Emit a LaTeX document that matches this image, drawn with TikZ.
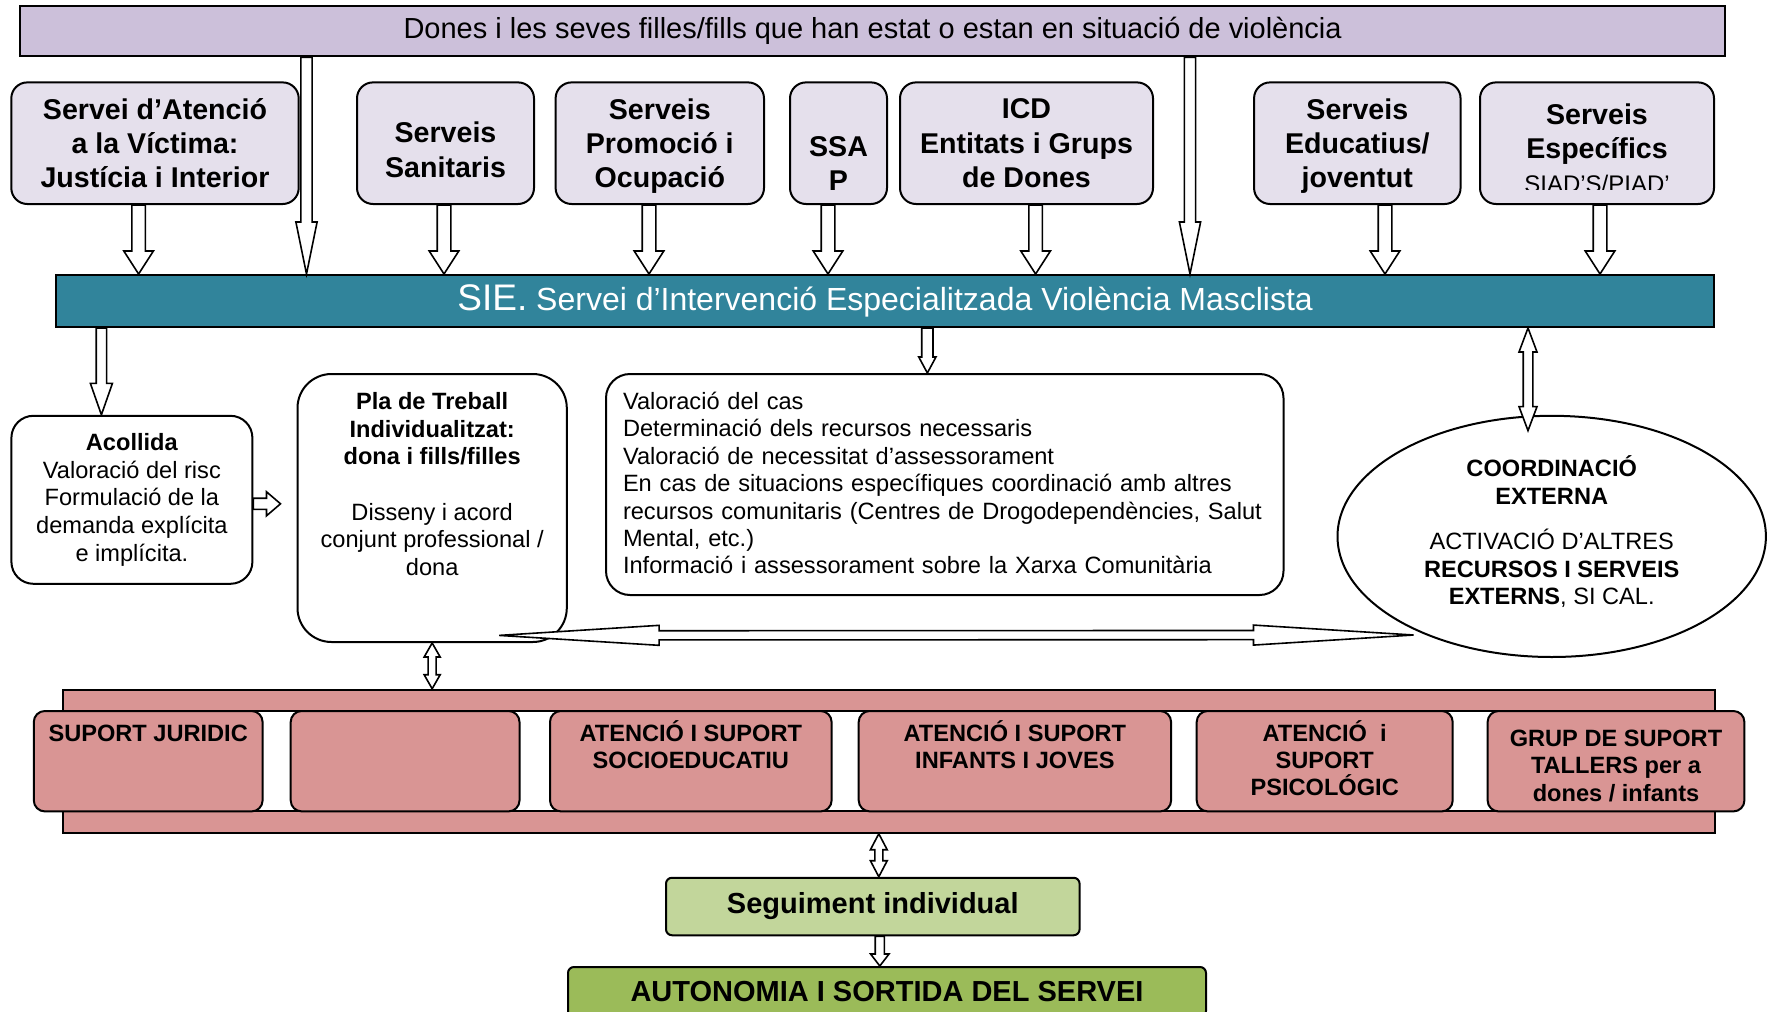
\documentclass[tikz,border=0pt]{standalone}
\usepackage{fontspec}
\setmainfont{Liberation Sans}
\usetikzlibrary{positioning,calc,shapes.geometric}

\definecolor{barlilac}{RGB}{204,192,218}
\definecolor{boxlilac}{RGB}{229,224,236}
\definecolor{sieteal}{RGB}{49,132,155}
\definecolor{rosefill}{RGB}{217,149,148}
\definecolor{sagegreen}{RGB}{194,214,155}
\definecolor{olivegreen}{RGB}{155,187,89}

% hollow block arrows: from, to, half shaft, half head, head length
\newcommand{\hollowarrow}[5]{%
	\coordinate (ha) at #1; \coordinate (hb) at #2;
	\coordinate (hh) at ($(hb)!#5!(ha)$);
	\draw[fill=white, line width=0.8pt] ($(ha)!#3!90:(hb)$) -- ($(hh)!#3!90:(hb)$) -- ($(hh)!#4!90:(hb)$) -- (hb)
	-- ($(hh)!#4!-90:(hb)$) -- ($(hh)!#3!-90:(hb)$) -- ($(ha)!#3!-90:(hb)$) -- cycle;}
\newcommand{\hollowboth}[5]{%
	\coordinate (ha) at #1; \coordinate (hb) at #2;
	\coordinate (hh) at ($(hb)!#5!(ha)$);
	\coordinate (hg) at ($(ha)!#5!(hb)$);
	\draw[fill=white, line width=0.8pt] (ha) -- ($(hg)!#4!90:(hb)$) -- ($(hg)!#3!90:(hb)$) -- ($(hh)!#3!90:(hb)$) -- ($(hh)!#4!90:(hb)$) -- (hb)
	-- ($(hh)!#4!-90:(hb)$) -- ($(hh)!#3!-90:(hb)$) -- ($(hg)!#3!-90:(hb)$) -- ($(hg)!#4!-90:(hb)$) -- cycle;}

\begin{document}
\begin{tikzpicture}[x=0.5pt, y=-0.5pt, line width=1pt]
		
		% Setup the styles for the boxes
		\tikzset{service/.style={draw, rounded corners=8pt, fill=boxlilac, align=center, inner sep=0pt,
				minimum height=60.8pt, font=\bfseries\fontsize{14.3}{17.2}\selectfont},
			barbox/.style={draw, inner sep=0pt},
			whitebox/.style={draw, fill=white, align=center, font=\fontsize{11.8}{13.8}\selectfont},
			support/.style={draw, rounded corners=5.5pt, fill=rosefill, align=center, inner sep=0pt,
				minimum height=50.2pt, text height=15pt, text depth=35.2pt,
				font=\bfseries\fontsize{11.8}{13.6}\selectfont},
			exitbox/.style={draw, rounded corners=3pt, inner sep=0pt, font=\bfseries\fontsize{14.5}{17}\selectfont}}
		
		\useasboundingbox (0,0) rectangle (1767,1012);
		
		% Top bar and the services
		\node[barbox, fill=barlilac, minimum width=852.35pt, minimum height=25.35pt, font=\fontsize{14.5}{17}\selectfont]
			at (872.65,30.95) (top) {Dones i les seves filles/fills que han estat o estan en situació de violència};
		\node[service, minimum width=143.7pt] at (155,143.2) (sav) {Servei d’Atenció\\a la Víctima:\\Justícia i Interior};
		\node[service, minimum width=88.5pt, text height=47.35pt, text depth=13.45pt] at (445.5,143.2) (ssan) {Serveis\\Sanitaris};
		\node[service, minimum width=104.2pt, text height=52.7pt, text depth=8.1pt] at (659.8,143.2) (sprom) {Serveis\\Promoció i\\Ocupació};
		\node[service, minimum width=48.5pt, text height=54pt, text depth=6.8pt] at (838.5,143.2) (ssap) {SSA\\P};
		\node[service, minimum width=126.5pt] at (1026.5,143.2) (icd) {ICD\\Entitats i Grups\\de Dones};
		\node[service, minimum width=103.25pt, text height=52.7pt, text depth=8.1pt] at (1357.3,143.2) (sedu) {Serveis\\Educatius/\\joventut};
		\node[service, minimum width=117pt] at (1597,143.2) (sesp) {};
		\begin{scope}
			\clip (sesp.north west) rectangle ([yshift=8pt]sesp.south east);
			\node[anchor=base, align=center, font=\bfseries\fontsize{14.3}{17}\selectfont]
				at ([yshift=-55.35pt]sesp.north) (sespText) {Serveis\\Específics\\{\mdseries\fontsize{12}{17}\selectfont SIAD’S/PIAD’}};
		\end{scope}
		
		% SIE bar
		\node[barbox, fill=sieteal, text=white, minimum width=828.85pt, minimum height=26pt, font=\fontsize{16}{19}\selectfont]
			at (885.15,301) (sie) {{\fontsize{18.5}{20}\selectfont SIE.} Servei d’Intervenció Especialitzada Violència Masclista};
		
		% Arrows into the SIE bar
		\coordinate (l1) at (306.5,0);
		\coordinate (l2) at (1190,0);
		\hollowarrow{(l1 |- top.south)}{(l1 |- sie.north)}{2.8pt}{5.3pt}{26pt}
		\hollowarrow{(l2 |- top.south)}{(l2 |- sie.north)}{2.8pt}{5.3pt}{26pt}
		\coordinate (s1) at ([xshift=-8.2pt]sav.south);
		\coordinate (s2) at ([xshift=-0.75pt]ssan.south);
		\coordinate (s3) at ([xshift=-5.4pt]sprom.south);
		\coordinate (s4) at ([xshift=-5.25pt]ssap.south);
		\coordinate (s5) at ([xshift=4.55pt]icd.south);
		\coordinate (s6) at ([xshift=13.85pt]sedu.south);
		\coordinate (s7) at ([xshift=1.5pt]sesp.south);
		\hollowarrow{(s1)}{(s1 |- sie.north)}{3.4pt}{7.4pt}{11.5pt}
		\hollowarrow{(s2)}{(s2 |- sie.north)}{3.4pt}{7.4pt}{11.5pt}
		\hollowarrow{(s3)}{(s3 |- sie.north)}{3.4pt}{7.4pt}{11.5pt}
		\hollowarrow{(s4)}{(s4 |- sie.north)}{3.4pt}{7.4pt}{11.5pt}
		\hollowarrow{(s5)}{(s5 |- sie.north)}{3.4pt}{7.4pt}{11.5pt}
		\hollowarrow{(s6)}{(s6 |- sie.north)}{3.4pt}{7.4pt}{11.5pt}
		\hollowarrow{(s7)}{(s7 |- sie.north)}{3.4pt}{7.4pt}{11.5pt}
		
		% Middle row
		\node[whitebox, rounded corners=11pt, minimum width=120.5pt, minimum height=84pt, inner sep=0pt]
			at (131.9,499.8) (acc) {\textbf{Acollida}\\Valoració del risc\\Formulació de la\\demanda explícita\\e implícita.};
		\node[whitebox, rounded corners=17pt, minimum width=134.65pt, inner sep=0pt, text height=100.6pt, text depth=33.4pt]
			at (432.15,508) (pla) {\textbf{Pla de Treball}\\\textbf{Individualitzat:}\\\textbf{dona i fills/filles}\\[13.8pt]Disseny i acord\\conjunt professional /\\dona};
		\node[whitebox, rounded corners=12pt, align=left, text width=321.75pt, inner xsep=8.5pt, inner ysep=0pt,
			text height=17.7pt, text depth=92.8pt, font=\fontsize{11.8}{13.7}\selectfont]
			at (944.75,484.5) (val) {Valoració del cas\\Determinació dels recursos necessaris\\Valoració de necessitat d’assessorament\\En cas de situacions específiques coordinació amb altres\\recursos comunitaris (Centres de Drogodependències, Salut\\Mental, etc.)\\Informació i assessorament sobre la Xarxa Comunitària};
		\node[whitebox, ellipse, minimum width=214.2pt, minimum height=120.6pt, inner sep=0pt]
			at (1551.7,536.4) (crd) {\raisebox{1pt}[\height][\depth]{\begin{tabular}{@{}c@{}}\textbf{COORDINACIÓ}\\\textbf{EXTERNA}\\[8.2pt]ACTIVACIÓ D’ALTRES\\\textbf{RECURSOS I SERVEIS}\\\textbf{EXTERNS}, SI CAL.\end{tabular}}};
		
		\coordinate (a1) at ([xshift=-15.25pt]acc.north);
		\hollowarrow{(a1 |- sie.south)}{(a1)}{2.6pt}{5.5pt}{15.7pt}
		\coordinate (ae) at ([yshift=-2pt]acc.east);
		\hollowarrow{(ae)}{($(ae -| pla.west)+(-16,0)$)}{2.8pt}{6pt}{7pt}
		\coordinate (v1) at ([xshift=-8.7pt]val.north);
		\hollowarrow{(v1 |- sie.south)}{(v1)}{2.8pt}{4.3pt}{8pt}
		\coordinate (c1) at ([xshift=-11.85pt, yshift=-7.9pt]crd.north);
		\hollowboth{(c1 |- sie.south)}{(c1)}{2.4pt}{4.5pt}{12pt}
		\hollowboth{([xshift=33.5pt, yshift=3.8pt]pla.south)}{([yshift=-2.7pt]crd.214)}{2.3pt}{5pt}{80pt}
		
		% Support band
		\node[barbox, fill=rosefill, minimum width=826pt, minimum height=71.5pt] at (889,761.25) (band) {};
		\draw[fill=white] (148.2,711) rectangle (1616,811.4);
		\node[support, minimum width=114.4pt] at (148.2,761.2) (p1) {SUPORT JURIDIC};
		\node[support, minimum width=114.4pt] at (405.1,761.2) (p2) {};
		\node[support, minimum width=140.8pt, text height=28.6pt, text depth=21.6pt] at (690.8,761.2) (p3) {ATENCIÓ I SUPORT\\SOCIOEDUCATIU};
		\node[support, minimum width=156.2pt, text height=28.6pt, text depth=21.6pt] at (1014.9,761.2) (p4) {ATENCIÓ I SUPORT\\INFANTS I JOVES};
		\node[support, minimum width=128pt, text height=42.2pt, text depth=8pt] at (1324.7,761.2) (p5) {ATENCIÓ\ \ i\\SUPORT\\PSICOLÓGIC};
		\node[support, minimum width=128.4pt, text height=45pt, text depth=5.2pt] at (1616,761.2) (p6) {GRUP DE SUPORT\\TALLERS per a\\dones / infants};
		
		% Follow-up and exit
		\node[exitbox, fill=sagegreen, minimum width=206.8pt, minimum height=28.75pt] at (872.8,906.5) (seg) {Seguiment individual};
		\node[exitbox, fill=olivegreen, minimum width=319pt, minimum height=25pt] at (887,992) (aut) {AUTONOMIA I SORTIDA DEL SERVEI};
		
		\hollowboth{(pla.south)}{(pla.south |- band.north)}{2pt}{4pt}{7pt}
		\coordinate (g1) at ([xshift=3pt]seg.north);
		\hollowboth{(g1 |- band.south)}{(g1)}{2pt}{4.2pt}{8pt}
		\coordinate (g2) at ([xshift=3.5pt]seg.south);
		\hollowarrow{(g2)}{(g2 |- aut.north)}{2.3pt}{4.6pt}{6pt}
		
\end{tikzpicture}
\end{document}
